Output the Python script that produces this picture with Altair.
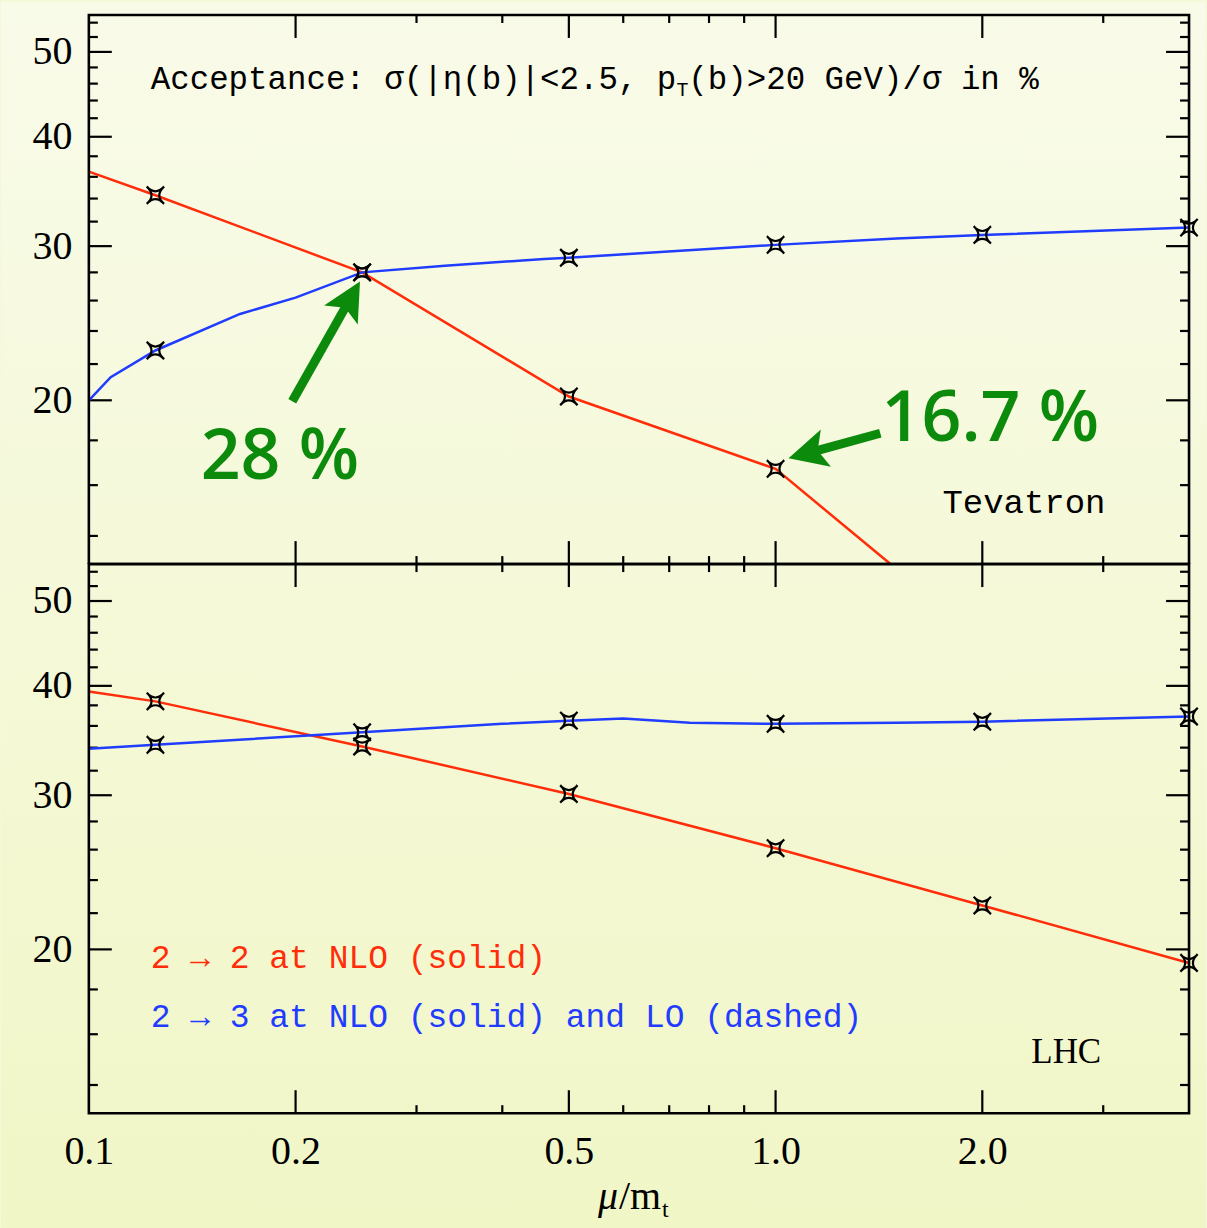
import math

import altair as alt
import pandas as pd

# ---------------------------------------------------------------------------
# Data: acceptance (%) versus the scale mu / m_t
# ---------------------------------------------------------------------------
mu_marks = [0.125, 0.25, 0.5, 1.0, 2.0, 4.0]

# Tevatron
tev_22_mu = [0.1, 0.125, 0.25, 0.5, 1.0, 1.47]
tev_22_acc = [36.5, 34.3, 28.0, 20.2, 16.7, 13.0]
tev_23_mu = [0.1, 0.1076, 0.125, 0.166, 0.2, 0.25, 0.33, 0.46, 0.5, 1.0, 1.5, 2.0, 4.0]
tev_23_acc = [20.0, 21.25, 22.8, 25.1, 26.2, 28.0, 28.5, 29.0, 29.1, 30.1, 30.6, 30.9, 31.5]

# LHC
lhc_22_mu = [0.1, 0.125, 0.25, 0.5, 1.0, 2.0, 4.0]
lhc_22_acc = [39.4, 38.4, 34.1, 30.1, 26.1, 22.45, 19.3]
lhc_23_mu = [0.1, 0.125, 0.25, 0.4, 0.5, 0.6, 0.75, 1.0, 1.5, 2.0, 4.0]
lhc_23_acc = [33.9, 34.25, 35.4, 36.2, 36.5, 36.7, 36.3, 36.2, 36.3, 36.4, 36.9]

# axis ticks and labels
x_label_values = [0.1, 0.2, 0.5, 1.0, 2.0]
x_major_ticks = [0.2, 0.5, 1.0, 2.0]
x_minor_ticks = [0.3, 0.4, 0.6, 0.7, 0.8, 0.9, 3.0]
y_major_ticks = [20, 30, 40, 50]
y_minor_ticks = [14, 16, 18, 22, 24, 26, 28, 32, 34, 36, 38, 42, 44, 46, 48, 52, 54]

proc_names = ["2 -> 2 NLO", "2 -> 3 NLO"]

# ---------------------------------------------------------------------------
# Styling
# ---------------------------------------------------------------------------
W, H = 1102, 550
LEFT, TOP, FULL_W, FULL_H = 88, 13, 1207, 1228
MU_DOMAIN = [0.1, 4.0]
ACC_DOMAIN = [13.0, 55.1]
RED, BLUE, GREEN = "#ff2d0a", "#1f3cff", "#0c8a0c"
MONO, SERIF, SANS = "Liberation Mono", "Liberation Serif", "Open Sans"
BG_TOP, BG_BOTTOM = "#f9fbe9", "#f1f6c7"
MAJOR_LEN, MINOR_LEN = 23, 8

# the symbol drawn at each computed scale point
MARKER_PATH = "M-1,-1 Q0,0.1 1,-1 Q-0.1,0 1,1 Q0,-0.1 -1,1 Q0.1,0 -1,-1 Z"
# arrow head with its tip at the anchor, pointing up before rotation
HEAD_PATH = "M0,0 L0.5,1 L0,0.78 L-0.5,1 Z"


def mix(c1, c2, t):
    a = [int(c1[i:i + 2], 16) for i in (1, 3, 5)]
    b = [int(c2[i:i + 2], 16) for i in (1, 3, 5)]
    return "#" + "".join(f"{round(x + (y - x) * t):02x}" for x, y in zip(a, b))


xscale = alt.Scale(type="log", domain=MU_DOMAIN, nice=False)
yscale = alt.Scale(type="log", domain=ACC_DOMAIN, nice=False)
color_scale = alt.Scale(domain=proc_names, range=[RED, BLUE])

y_axis = alt.Axis(
    values=y_major_ticks, format="d", ticks=False, domain=False, grid=False,
    labelFont=SERIF, labelFontSize=40, labelColor="black", labelPadding=17,
    labelFlush=False, labelOverlap=False, title=None, zindex=2,
)


def x_axis(show):
    if not show:
        return None
    return alt.Axis(
        values=x_label_values, format=".1f", ticks=False, domain=False, grid=False,
        labelFont=SERIF, labelFontSize=40, labelColor="black", labelPadding=18,
        labelFlush=False, labelOverlap=False, title=None, zindex=2,
    )


def xenc(field, show):
    return alt.X(f"{field}:Q", scale=xscale, axis=x_axis(show))


def yenc(field):
    return alt.Y(f"{field}:Q", scale=yscale, axis=y_axis)


ONE = alt.Data(values=[{}])


def text(label, x, y, font, size, color="black", align="left", style="normal", weight="normal"):
    return alt.Chart(ONE).mark_text(
        text=label, align=align, baseline="alphabetic", font=font, fontSize=size,
        color=color, fontStyle=style, fontWeight=weight,
    ).encode(x=alt.value(x), y=alt.value(y))


def background(y0, y1, c0, c1):
    grad = alt.LinearGradient(
        gradient="linear", x1=0, x2=0, y1=0, y2=1,
        stops=[alt.GradientStop(color=c0, offset=0), alt.GradientStop(color=c1, offset=1)],
    )
    return alt.Chart(ONE).mark_rect(fill=grad, strokeWidth=0).encode(
        x=alt.value(-LEFT), x2=alt.value(FULL_W - LEFT), y=alt.value(y0), y2=alt.value(y1)
    )


def tick_layers(show_x):
    layers = []
    for vals, length in ((x_major_ticks, MAJOR_LEN), (x_minor_ticks, MINOR_LEN)):
        df = pd.DataFrame({"v": vals})
        for y0, y1 in ((0, length), (H - length, H)):
            layers.append(
                alt.Chart(df).mark_rule(color="black", strokeWidth=2.2).encode(
                    x=xenc("v", show_x), y=alt.value(y0), y2=alt.value(y1)
                )
            )
    for vals, length in ((y_major_ticks, MAJOR_LEN), (y_minor_ticks, MINOR_LEN + 1)):
        df = pd.DataFrame({"v": vals})
        for x0, x1 in ((0, length), (W - length, W)):
            layers.append(
                alt.Chart(df).mark_rule(color="black", strokeWidth=2.2).encode(
                    y=yenc("v"), x=alt.value(x0), x2=alt.value(x1)
                )
            )
    return layers


def curve_layers(r_mu, r_acc, b_mu, b_acc, show_x):
    rows = [(m, a, proc_names[0]) for m, a in zip(r_mu, r_acc)]
    rows += [(m, a, proc_names[1]) for m, a in zip(b_mu, b_acc)]
    df = pd.DataFrame(rows, columns=["mu", "acc", "proc"])
    marks = df[df["mu"].isin(mu_marks)]
    line = alt.Chart(df).mark_line(strokeWidth=2.5, clip=True).encode(
        x=xenc("mu", show_x), y=yenc("acc"),
        color=alt.Color("proc:N", scale=color_scale, legend=None),
        detail="proc:N",
    )
    pts = alt.Chart(marks).mark_point(
        shape=MARKER_PATH, size=300, filled=False, color="black", strokeWidth=2.2, opacity=1
    ).encode(x=xenc("mu", show_x), y=yenc("acc"))
    return [line, pts]


def arrow_layers(tail, tip, angle, head_back):
    # shaft stops a little short of the tip so the head covers it (log axes)
    end = (
        tip[0] * (tail[0] / tip[0]) ** head_back,
        tip[1] * (tail[1] / tip[1]) ** head_back,
    )
    shaft = pd.DataFrame({"mu": [tail[0]], "acc": [tail[1]], "mu2": [end[0]], "acc2": [end[1]]})
    head = pd.DataFrame({"mu": [tip[0]], "acc": [tip[1]], "a": [angle]})
    return [
        alt.Chart(shaft).mark_rule(color=GREEN, strokeWidth=9, strokeCap="butt").encode(
            x=xenc("mu", False), y=yenc("acc"), x2="mu2:Q", y2="acc2:Q"
        ),
        alt.Chart(head).mark_point(
            shape=HEAD_PATH, size=6000, filled=True, color=GREEN, opacity=1, strokeWidth=0
        ).encode(x=xenc("mu", False), y=yenc("acc"), angle=alt.Angle("a:Q", scale=None)),
    ]


frame = alt.Chart(ONE).mark_rect(fillOpacity=0, stroke="black", strokeWidth=2.6).encode(
    x=alt.value(0), x2=alt.value(W), y=alt.value(0), y2=alt.value(H)
)

split = (TOP + H) / FULL_H
bg_mid = mix(BG_TOP, BG_BOTTOM, split)

# ---------------------------------------------------------------------------
# Tevatron panel
# ---------------------------------------------------------------------------
acc_cross = tev_22_acc[tev_22_mu.index(0.25)]
acc_mt = tev_22_acc[tev_22_mu.index(1.0)]

tev_layers = [background(-TOP, H, BG_TOP, bg_mid)]
tev_layers += tick_layers(False)
tev_layers += curve_layers(tev_22_mu, tev_22_acc, tev_23_mu, tev_23_acc, False)
tev_layers += arrow_layers((0.1978, 19.95), (0.2482, 27.34), 29.5, 0.16)
tev_layers += arrow_layers((1.4207, 18.34), (1.0445, 17.17), 254.8, 0.23)
tev_layers += [
    text("Acceptance: σ(|η(b)|<2.5, p", 62, 74, MONO, 32.5),
    text("T", 62 + 27 * 0.6 * 32.5, 81, MONO, 20),
    text("(b)>20 GeV)/σ in %", 62 + 27 * 0.6 * 32.5 + 12, 74, MONO, 32.5),
    text("Tevatron", 855, 499, MONO, 34),
    text(f"{acc_cross:g} %", 112, 465, SANS, 70, GREEN, weight=600),
    text(f"{acc_mt:g} %", 794, 427, SANS, 70, GREEN, weight=600),
    frame,
]
tev = alt.layer(*tev_layers).properties(width=W, height=H)

# ---------------------------------------------------------------------------
# LHC panel
# ---------------------------------------------------------------------------
lhc_layers = [background(0, FULL_H - TOP - H, bg_mid, BG_BOTTOM)]
lhc_layers += tick_layers(True)
lhc_layers += curve_layers(lhc_22_mu, lhc_22_acc, lhc_23_mu, lhc_23_acc, True)
lhc_layers += [
    text("2 → 2 at NLO (solid)", 62, 405, MONO, 33, RED),
    text("2 → 3 at NLO (solid) and LO (dashed)", 62, 464, MONO, 33, BLUE),
    text("LHC", 944, 500, SERIF, 35),
    text("μ", 530, 646, SERIF, 40, style="italic", align="right"),
    text("/m", 531, 646, SERIF, 40),
    text("t", 574, 654, SERIF, 24),
    frame,
]
lhc = alt.layer(*lhc_layers).properties(width=W, height=H)

chart = (
    alt.vconcat(tev, lhc, spacing=0, bounds="flush")
    .properties(padding=0, background=bg_mid)
    .configure_view(stroke="transparent")
)

chart.save("out.html", embed_options={"renderer": "svg", "actions": False})
